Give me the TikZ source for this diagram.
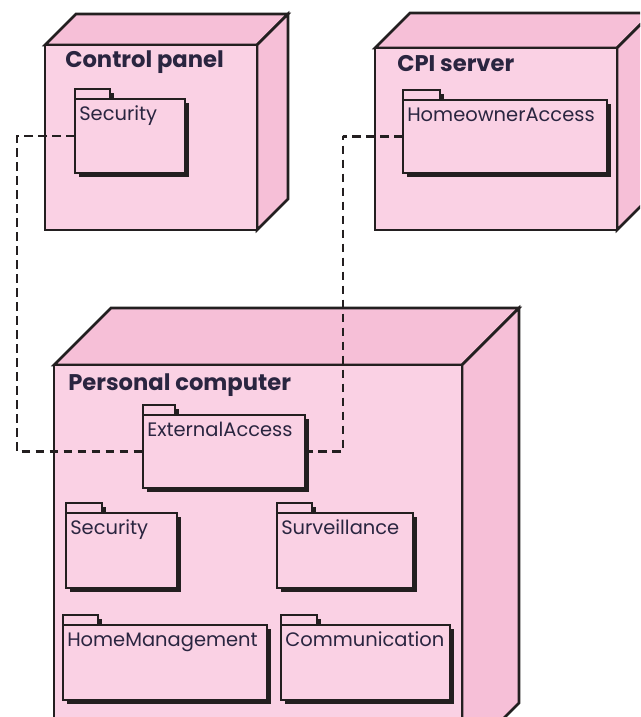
\documentclass[tikz,border=0pt]{standalone}
\usepackage{fontspec}
\setmainfont{Poppins}
\usetikzlibrary{shadows}
\definecolor{frontpink}{HTML}{FAD1E4}
\definecolor{sidepink}{HTML}{F6BFD7}
\definecolor{edgecol}{HTML}{231F20}
\definecolor{ink}{HTML}{2A2540}
\tikzset{
  face/.style={draw=edgecol, line width=1.9pt, line join=miter},
  cubefront/.style={face, fill=frontpink, rectangle, inner sep=0pt, outer sep=0pt, anchor=north west},
  pkgshadow/.style={drop shadow={shadow xshift=3.3pt, shadow yshift=-3.3pt, opacity=1, fill=edgecol}},
  pkgbody/.style={rectangle, draw=edgecol, line width=2.1pt, fill=frontpink, inner sep=0pt, outer sep=0pt, anchor=north west, pkgshadow},
  pkgtab/.style={draw=edgecol, line width=2.1pt, fill=frontpink, pkgshadow},
  pkglabel/.style={text=ink, font=\fontsize{14.6}{18}\selectfont, inner sep=0pt, anchor=base west},
  cubetitle/.style={text=ink, font=\fontsize{17}{20}\selectfont\bfseries, inner sep=0pt, anchor=base west},
  conn/.style={draw=edgecol, line width=1.9pt, dash pattern=on 6.5pt off 4pt}
}
\newcommand\nodecube[6]{%
  \filldraw[face, fill=sidepink] (#2,#3) -- ++(#6,-#6) -- ({#4+#6},{#3-#6}) -- (#4,#3) -- cycle;
  \filldraw[face, fill=sidepink] (#4,#3) -- ({#4+#6},{#3-#6}) -- ({#4+#6},{#5-#6}) -- (#4,#5) -- cycle;
  \node[cubefront, minimum width={(#4-#2)*0.75pt}, minimum height={(#5-#3)*0.75pt}] (#1) at (#2,#3) {};
}
\newcommand\pkgnode[7]{%
  \path[pkgtab] (#2,{#3-10}) rectangle ({#2+#7},#3);
  \node[pkgbody, minimum width={(#4-#2)*0.75pt}, minimum height={(#5-#3)*0.75pt}] (#1) at (#2,#3) {};
  \node[pkglabel] (#1-label) at ({#2+4},{#3+21}) {#6};
}
\begin{document}
\begin{tikzpicture}[x=0.75pt, y=-0.75pt]
  \useasboundingbox (0,0) rectangle (640,717);
  \clip (0,0) rectangle (640,717);
  % cubes
  \nodecube{cp}{45}{45}{257}{230}{31}
  \node[cubetitle] (cp-title) at (65,68) {Control panel};
  \nodecube{cpi}{375}{48}{617}{230}{35}
  \node[cubetitle] (cpi-title) at (397,72) {CPI server};
  \nodecube{pc}{54}{365}{462}{760}{57}
  \node[cubetitle] (pc-title) at (68,390) {Personal computer};
  % packages
  \pkgnode{cpsec}{75}{99}{185}{173}{Security}{35}
  \pkgnode{hoa}{403}{100}{607}{173}{HomeownerAccess}{37}
  \pkgnode{ext}{143}{415}{305}{488}{ExternalAccess}{32}
  \pkgnode{pcsec}{66}{513}{177}{588}{Security}{36}
  \pkgnode{surv}{277}{513}{413}{588}{Surveillance}{35}
  \pkgnode{hm}{63}{625}{267}{700}{HomeManagement}{35}
  \pkgnode{comm}{281}{625}{450}{700}{Communication}{36}
  % connectors
  \coordinate (c1) at (17,136);
  \coordinate (c2) at (343,136);
  \draw[conn] (cpsec.west) -| (c1) |- (ext.west);
  \draw[conn] (hoa.west) -| (c2) |- (ext.east);
\end{tikzpicture}
\end{document}
